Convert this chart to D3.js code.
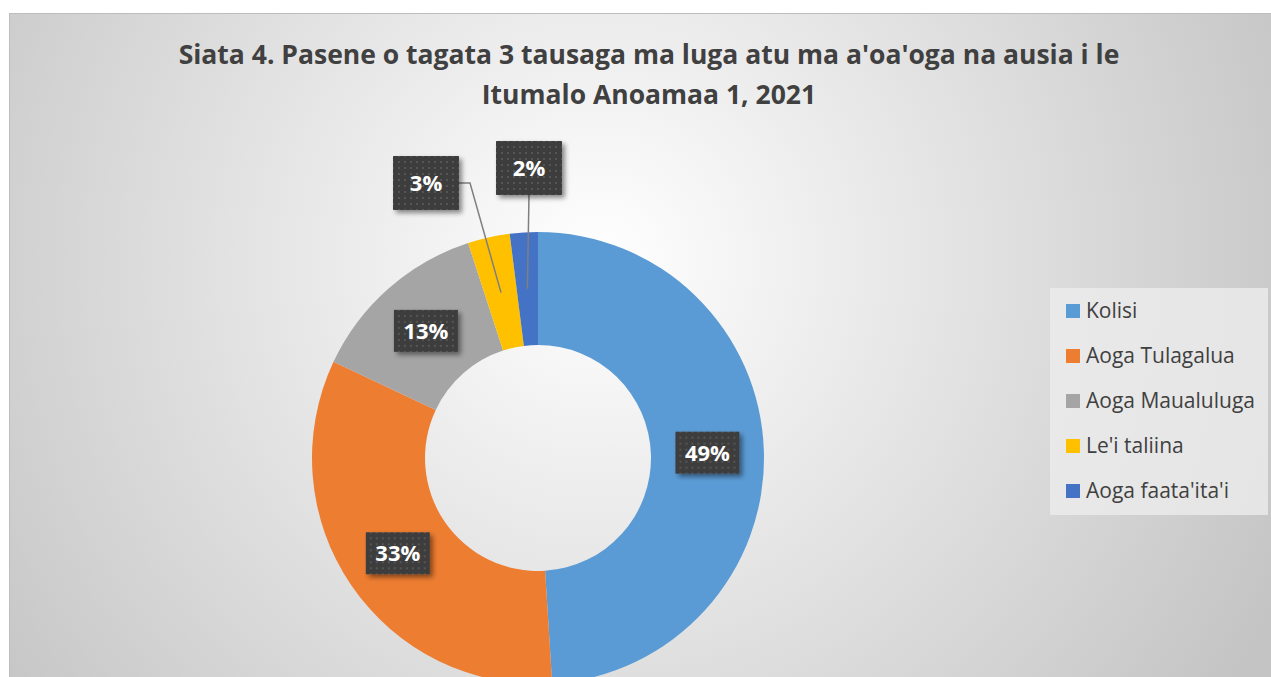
<!DOCTYPE html>
<html>
<head>
<meta charset="utf-8">
<script src="https://cdn.jsdelivr.net/npm/d3@7"></script>
<style>
  body { margin: 0; background: #fff; }
  svg { display: block; }
  text { font-family: "Open Sans", "Noto Sans", sans-serif; }
</style>
</head>
<body>
<div id="chart"></div>
<script>
// data
var categories = ["Kolisi", "Aoga Tulagalua", "Aoga Maualuluga", "Le'i taliina", "Aoga faata'ita'i"];
var values = [49, 33, 13, 3, 2];
var colors = ["#5B9BD5", "#ED7D31", "#A5A5A5", "#FFC000", "#4472C4"];
var titleLines = ["Siata 4. Pasene o tagata 3 tausaga ma luga atu ma a'oa'oga na ausia i le", "Itumalo Anoamaa 1, 2021"];

var width = 1271, height = 677;
var cx = 538, cy = 458;
var outerR = 226, innerR = 113;

var svg = d3.select("#chart").append("svg")
    .attr("width", width)
    .attr("height", height);

var defs = svg.append("defs");

// background gradient, light in the middle going gray to the corners
var grad = defs.append("radialGradient")
    .attr("id", "bg")
    .attr("gradientUnits", "userSpaceOnUse")
    .attr("cx", 600).attr("cy", 260).attr("r", 760);
grad.append("stop").attr("offset", "0%").attr("stop-color", "#ffffff");
grad.append("stop").attr("offset", "100%").attr("stop-color", "#c4c4c4");

// dotted dark pattern for data label boxes
var pat = defs.append("pattern")
    .attr("id", "dots")
    .attr("patternUnits", "userSpaceOnUse")
    .attr("width", 6).attr("height", 6);
pat.append("rect").attr("width", 6).attr("height", 6).attr("fill", "#3d3d3d");
pat.append("rect").attr("x", 2).attr("y", 2).attr("width", 2).attr("height", 2).attr("fill", "#555");

var shadow = defs.append("filter").attr("id", "shadow")
    .attr("x", "-20%").attr("y", "-20%").attr("width", "150%").attr("height", "150%");
shadow.append("feDropShadow")
    .attr("dx", 3).attr("dy", 3).attr("stdDeviation", 2.5)
    .attr("flood-color", "#000").attr("flood-opacity", 0.45);

// chart area
svg.append("rect")
    .attr("x", 9.5).attr("y", 13.5)
    .attr("width", width).attr("height", height)
    .attr("fill", "url(#bg)")
    .attr("stroke", "#bdbdbd").attr("stroke-width", 1);

// title
svg.append("g").selectAll("text")
    .data(titleLines)
    .enter()
    .append("text")
    .attr("x", 649)
    .attr("y", function (d, i) { return 64 + i * 40; })
    .attr("text-anchor", "middle")
    .attr("font-size", 26.5)
    .attr("font-weight", "bold")
    .attr("fill", "#404040")
    .text(function (d) { return d; });

// donut
var pie = d3.pie().sort(null).value(function (d) { return d; });
var arcs = pie(values);
var arc = d3.arc().innerRadius(innerR).outerRadius(outerR);
var midArc = d3.arc().innerRadius((innerR + outerR) / 2).outerRadius((innerR + outerR) / 2);

var g = svg.append("g").attr("transform", "translate(" + cx + "," + cy + ")");

g.selectAll("path")
    .data(arcs)
    .enter()
    .append("path")
    .attr("d", arc)
    .attr("fill", function (d, i) { return colors[i]; });

// label placement: the small slices get pulled out above the ring
var labelOffsets = [null, null, null, [-112, -275], [-9, -290]];

var labels = arcs.map(function (d, i) {
    var c = midArc.centroid(d);
    var pos = labelOffsets[i] ? labelOffsets[i] : c;
    return { text: values[i] + "%", pos: pos, anchor: c, out: !!labelOffsets[i], w: labelOffsets[i] ? 66 : 64, h: labelOffsets[i] ? 54 : 42 };
});

// leader lines for the outside labels
var lines = g.append("g");
labels.forEach(function (l, i) {
    if (!l.out) return;
    var pts;
    if (i === 3) {
        pts = [[l.anchor[0], l.anchor[1]], [l.pos[0] + l.w / 2 + 11, l.pos[1]], [l.pos[0] + l.w / 2, l.pos[1]]];
    } else {
        pts = [[l.anchor[0], l.anchor[1]], [l.pos[0], l.pos[1] + l.h / 2]];
    }
    lines.append("path")
        .attr("d", d3.line()(pts))
        .attr("fill", "none")
        .attr("stroke", "#7f7f7f")
        .attr("stroke-width", 1.5);
});

var lab = g.append("g").selectAll("g")
    .data(labels)
    .enter()
    .append("g")
    .attr("transform", function (d) { return "translate(" + d.pos[0] + "," + d.pos[1] + ")"; });

lab.append("rect")
    .attr("x", function (d) { return -d.w / 2; })
    .attr("y", function (d) { return -d.h / 2; })
    .attr("width", function (d) { return d.w; })
    .attr("height", function (d) { return d.h; })
    .attr("fill", "url(#dots)")
    .attr("filter", "url(#shadow)");

lab.append("text")
    .attr("text-anchor", "middle")
    .attr("dy", "0.36em")
    .attr("font-size", 22)
    .attr("font-weight", "bold")
    .attr("fill", "#fff")
    .text(function (d) { return d.text; });

// legend
var legend = svg.append("g").attr("transform", "translate(1050,288)");
legend.append("rect")
    .attr("width", 218).attr("height", 227)
    .attr("fill", "#ececec").attr("opacity", 0.8);

var item = legend.selectAll("g.item")
    .data(categories)
    .enter()
    .append("g")
    .attr("class", "item")
    .attr("transform", function (d, i) { return "translate(16," + (23 + i * 45) + ")"; });

item.append("rect")
    .attr("y", -7)
    .attr("width", 14).attr("height", 14)
    .attr("fill", function (d, i) { return colors[i]; });

item.append("text")
    .attr("x", 20)
    .attr("dy", "0.35em")
    .attr("font-size", 21)
    .attr("fill", "#404040")
    .text(function (d) { return d; });
</script>
</body>
</html>
